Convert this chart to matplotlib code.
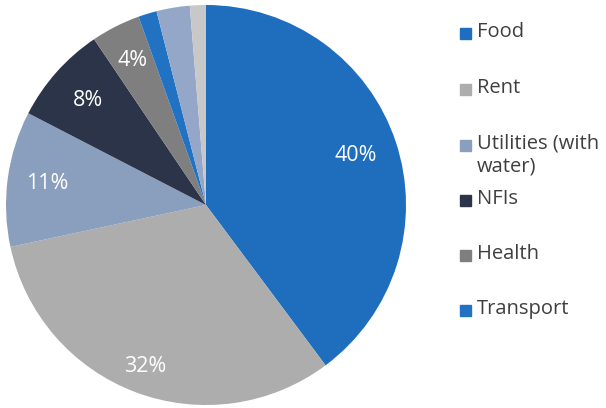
import numpy as np
import matplotlib.pyplot as plt
from matplotlib.patches import Rectangle

plt.rcParams['font.family'] = ['Open Sans', 'DejaVu Sans']

labels = ['Food', 'Rent', 'Utilities (with\nwater)', 'NFIs', 'Health', 'Transport', 'Other', 'Other 2']
values = [40, 32, 11, 8, 4, 1.5, 2.7, 1.3]
pct_labels = ['40%', '32%', '11%', '8%', '4%', '', '', '']
colors = ['#1f6dbd', '#adadad', '#8a9ebd', '#2b3448', '#7f7f7f', '#2272c3', '#95a7c8', '#c8c8c8']
legend_n = 6

W, H = 606, 408
fig = plt.figure(figsize=(W / 100, H / 100), dpi=100)

# pie centre ~ (206, 205) px from top-left, radius ~200 px
cx, cy, r = 206, 205, 200
ax = fig.add_axes([(cx - r) / W, (H - cy - r) / H, 2 * r / W, 2 * r / H])
wedges, _ = ax.pie(values, colors=colors, startangle=90, counterclock=False,
                   radius=1, wedgeprops=dict(linewidth=0))
ax.set_xlim(-1, 1)
ax.set_ylim(-1, 1)
ax.axis('off')

label_r = [0.79, 0.86, 0.8, 0.79, 0.81]
for w, txt, lr in zip(wedges, pct_labels, label_r):
    if not txt:
        continue
    ang = np.deg2rad((w.theta1 + w.theta2) / 2)
    ax.text(lr * np.cos(ang), lr * np.sin(ang), txt, color='white',
            fontsize=15.5, ha='center', va='center')

# legend
ys = [33, 89, 145, 200, 255, 310]
for i in range(legend_n):
    y = ys[i]
    fig.patches.append(Rectangle((460 / W, (H - y - 6) / H), 11 / W, 11 / H,
                                 transform=fig.transFigure, color=colors[i]))
    fig.text(477 / W, (H - y + 11) / H, labels[i], fontsize=14.5, color='#3f3f3f',
             ha='left', va='top', linespacing=1.15)

fig.savefig('out.png', dpi=100)
